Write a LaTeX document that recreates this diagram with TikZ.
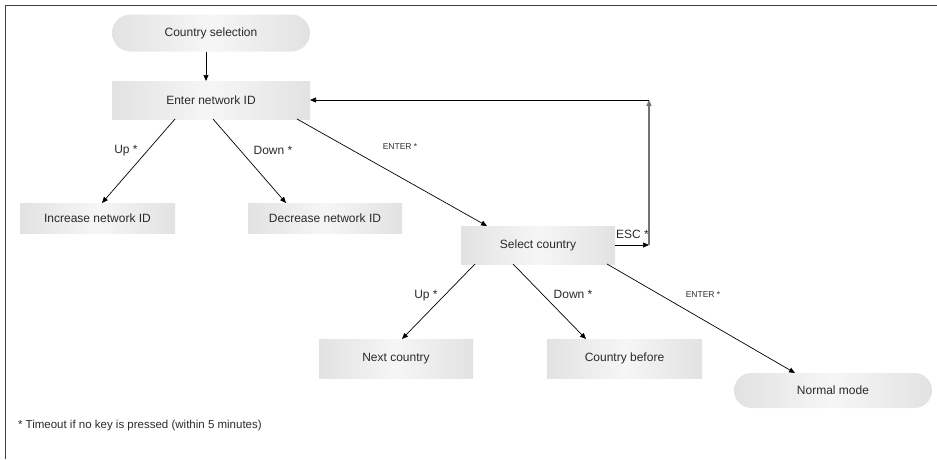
\documentclass[tikz,border=0pt]{standalone}
\usepackage{fontspec}
\setmainfont{Liberation Sans}
\usetikzlibrary{calc,arrows.meta,shapes.misc}
\definecolor{boxedge}{HTML}{E2E2E2}
\definecolor{boxmid}{HTML}{F6F6F6}
\definecolor{txt}{HTML}{2A2A2A}
\begin{document}
\begin{tikzpicture}[x=1pt,y=-1pt,
  every node/.style={inner sep=0pt,outer sep=0pt,text=txt},
  boxnode/.style={rectangle,left color=boxedge,right color=boxedge,middle color=boxmid,
     font=\fontsize{12}{14}\selectfont},
  pillnode/.style={rounded rectangle,left color=boxedge,right color=boxedge,middle color=boxmid,
     font=\fontsize{12}{14}\selectfont},
  lbl/.style={font=\fontsize{12}{14}\selectfont},
  smalllbl/.style={font=\fontsize{8.5}{10}\selectfont},
  conn/.style={-{Triangle[length=6pt,width=5pt]},line width=0.7pt,black},
  back/.style={-{Triangle[length=6pt,width=5pt]},line width=1.1pt,gray!90!black}
]
\useasboundingbox (0,0) rectangle (937,459);
\draw[line width=1.5pt,black!75] (5.5,459) -- (5.5,5.5) -- (937,5.5);

\node[pillnode,minimum width=198pt,minimum height=37pt] (cs) at (211,33) {Country selection};
\node[boxnode,minimum width=198pt,minimum height=38pt] (eni) at (211,100) {Enter network ID};
\node[boxnode,minimum width=155pt,minimum height=30pt] (inc) at (97.5,218) {Increase network ID};
\node[boxnode,minimum width=154pt,minimum height=30pt] (dec) at (325,218) {Decrease network ID};
\node[boxnode,minimum width=154pt,minimum height=38pt] (sel) at (538,245) {Select country};
\node[boxnode,minimum width=154pt,minimum height=39pt] (nxt) at (396,358.5) {Next country};
\node[boxnode,minimum width=155pt,minimum height=39pt] (bef) at (624.5,358.5) {Country before};
\node[pillnode,minimum width=198pt,minimum height=35pt] (nm) at (833,390.5) {Normal mode};

\coordinate (c1) at (649,245);
\coordinate (c2) at (649,100);

\draw[conn] ($(cs.south)+(-5,0)$) -- ($(eni.north)+(-5,0)$);
\draw[conn] ($(eni.south)+(-36,0)$) -- ($(inc.north)+(4.5,0)$);
\draw[conn] ($(eni.south)+(2,0)$) -- ($(dec.north)+(-39,0)$);
\draw[conn] ($(eni.south)+(86,0)$) -- ($(sel.north)+(-51,0)$);
\draw[conn] ($(sel.south)+(-63,0)$) -- ($(nxt.north)+(6,0)$);
\draw[conn] ($(sel.south)+(-25,0)$) -- ($(bef.north)+(-38.5,0)$);
\draw[conn] ($(sel.south)+(69,0)$) -- ($(nm.north)+(-38,0)$);
\draw[conn] (sel.east) -- (c1);
\draw[back] (c1) -- (c2);
\draw[conn] (c2) -- (eni.east);

\node[lbl] (l1) at (126,151) {Up *};
\node[lbl] (l2) at (273,150) {Down *};
\node[smalllbl] (l3) at (400,147) {ENTER *};
\node[lbl] (l4) at (632.5,234) {ESC *};
\node[lbl] (l5) at (426,296) {Up *};
\node[lbl] (l6) at (573,294) {Down *};
\node[smalllbl] (l7) at (703,295) {ENTER *};

\node[font=\fontsize{11.5}{13}\selectfont,anchor=west] (fn) at (18,426) {* Timeout if no key is pressed (within 5 minutes)};
\end{tikzpicture}
\end{document}
